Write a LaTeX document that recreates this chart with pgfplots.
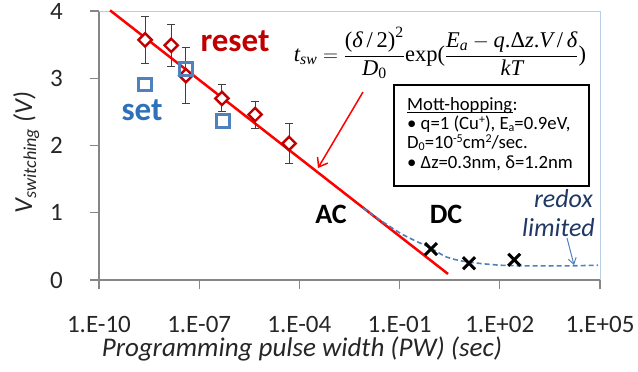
\documentclass[border=0pt]{standalone}
\usepackage{amsmath}
\usepackage{fontspec}
\setmainfont{Carlito}
\newfontfamily\tms{Liberation Serif}
\usepackage{pgfplots}
\pgfplotsset{compat=1.18}
\usetikzlibrary{arrows.meta}
\definecolor{resetred}{RGB}{192,0,0}
\definecolor{setblue}{RGB}{79,129,189}
\definecolor{settext}{RGB}{46,112,186}
\definecolor{navy}{RGB}{31,56,100}
\definecolor{axgray}{RGB}{134,134,134}
\definecolor{frameblue}{RGB}{185,205,229}
\definecolor{lbl}{RGB}{38,38,38}
\newcommand{\ti}[1]{\text{\tms\itshape #1}}
\newcommand{\tu}[1]{\text{\tms #1}}
\newcommand{\sps}[1]{\raisebox{5.5pt}{\fontsize{12}{12}\selectfont #1}}
\newcommand{\sbs}[1]{\raisebox{-2pt}{\fontsize{12}{12}\selectfont #1}}
\begin{document}
\begin{tikzpicture}[x=1pt,y=1pt]
\path[use as bounding box] (0,0) rectangle (638,-372);
\begin{axis}[
  at={(99pt,-280pt)}, anchor=south west,
  scale only axis, width=501pt, height=269pt,
  xmode=log, xmin=1e-10, xmax=1e5, ymin=0, ymax=4,
  clip=false,
  axis x line*=bottom, axis y line*=left,
  axis line style={-, color=axgray, line width=1.2pt},
  xtick={1e-10,1e-7,1e-4,1e-1,1e2,1e5},
  xticklabels={1.E-10,1.E-07,1.E-04,1.E-01,1.E+02,1.E+05},
  ytick={0,1,2,3,4},
  minor tick length=0pt,
  tick align=outside, major tick length=9pt,
  tick style={color=axgray, line width=1.2pt},
  /pgf/number format/assume math mode=true,
  ticklabel style={font=\fontsize{25}{25}\selectfont, color=lbl},
  xticklabel style={anchor=base, inner sep=0pt, yshift=-43pt},
  yticklabel style={anchor=east, inner sep=0pt, xshift=-27pt},
  xlabel={Programming pulse width (PW) (sec)},
  xlabel style={font=\fontsize{27}{27}\selectfont\itshape, color=lbl, at={(axis description cs:0.405,-0.286)}, anchor=base, inner sep=0pt},
  ylabel={V\textsubscript{switching} (V)},
  ylabel style={font=\fontsize{26}{26}\selectfont\itshape, color=lbl, at={(axis description cs:-0.1337,0.474)}, anchor=base, inner sep=0pt},
]
\draw[color=frameblue, line width=1pt] (rel axis cs:0,1) -- (rel axis cs:1,1) -- (rel axis cs:1,0);
% red model line
\addplot[color=red, line width=2.5pt] coordinates {(2.14e-10,4.01) (2.82,0.09)};
% blue dashed
\addplot[color=setblue, line width=1.6pt, dash pattern=on 5pt off 3pt, smooth, tension=0.5] coordinates {
(7.9e-3,1.07) (0.102,0.70) (0.81,0.48) (2.6,0.34) (10.5,0.27) (102,0.22) (1000,0.21) (1.02e4,0.21) (8.7e4,0.22)};
% reset
\addplot[only marks, mark=square*, mark size=4.7pt, color=resetred, line width=2.4pt,
  mark options={rotate=45, fill=white, solid},
  error bars/.cd, y dir=both, y explicit,
  error bar style={line width=1pt, color=black!75},
  error mark options={rotate=90, mark size=4pt, line width=1pt, color=black!75}]
coordinates {
(2.4e-9,3.57) +- (0,0.35)
(1.45e-8,3.49) +- (0,0.31)
(4.0e-8,3.04) +- (0,0.41)
(4.8e-7,2.70) +- (0,0.20)
(4.7e-6,2.46) +- (0,0.20)
(4.9e-5,2.03) +- (0,0.30)
};
% set
\addplot[only marks, mark=square, mark size=6.3pt, color=setblue, line width=3pt]
coordinates {(2.4e-9,2.91) (4.0e-8,3.14) (5.1e-7,2.36)};
% DC crosses
\addplot[only marks, mark=x, mark size=8.5pt, color=black, line width=3pt]
coordinates {(0.87,0.46) (12,0.25) (270,0.30)};
\end{axis}
% annotations
\node[anchor=base, font=\fontsize{33}{33}\selectfont\bfseries, color=resetred, inner sep=0pt] at (235,-52) {reset};
\node[anchor=base, font=\fontsize{33}{33}\selectfont\bfseries, color=settext, inner sep=0pt] at (142,-120) {set};
\node[anchor=base, font=\fontsize{28}{28}\selectfont\bfseries, inner sep=0pt] at (331,-223) {AC};
\node[anchor=base, font=\fontsize{28}{28}\selectfont\bfseries, inner sep=0pt] at (446,-223) {DC};
\node[anchor=base east, font=\fontsize{26}{26}\selectfont\itshape, color=navy, inner sep=0pt] at (593,-207) {redox};
\node[anchor=base east, font=\fontsize{26}{26}\selectfont\itshape, color=navy, inner sep=0pt] at (595,-236) {limited};
\node[inner sep=0pt, font=\fontsize{22.5}{26}\selectfont] at (440,-53)
 {$\ti{t}_{\ti{sw}}=\dfrac{\tu{(}\ti{δ}\tu{\,/\,2)}^{\tu{2}}}{\ti{D}_{\tu{0}}}\tu{exp(}\dfrac{\ti{E}_{\ti{a}}-\ti{q}\tu{.Δ}\ti{z}\tu{.}\ti{V}\tu{\,/\,}\ti{δ}}{\ti{kT}}\tu{)}$};
\draw[color=red, line width=1.5pt, -{Straight Barb[length=8pt,width=12pt]}] (363,-92) -- (318,-168);
\draw[color=setblue, line width=1pt, -{Straight Barb[length=6pt,width=8pt]}] (567,-238) -- (574,-265);
% box
\draw[line width=1.3pt, fill=white] (394,-85) rectangle (589,-186);
\begin{scope}[every node/.style={anchor=base west, inner sep=0pt, font=\fontsize{18.7}{20}\selectfont}]
\node (mh) at (407,-110) {Mott-hopping};
\node at (mh.base east) {:};
\draw[line width=1pt] ([yshift=-2.5pt]mh.base west) -- ([yshift=-2.5pt]mh.base east);
\node at (407,-129) {• q=1 (Cu\sps{+}), E\sbs{a}=0.9eV,};
\node at (407,-148) {D\sbs{0}=10\sps{-5}cm\sps{2}/sec.};
\node at (407,-168) {• Δz=0.3nm, δ=1.2nm};
\end{scope}
\end{tikzpicture}
\end{document}
